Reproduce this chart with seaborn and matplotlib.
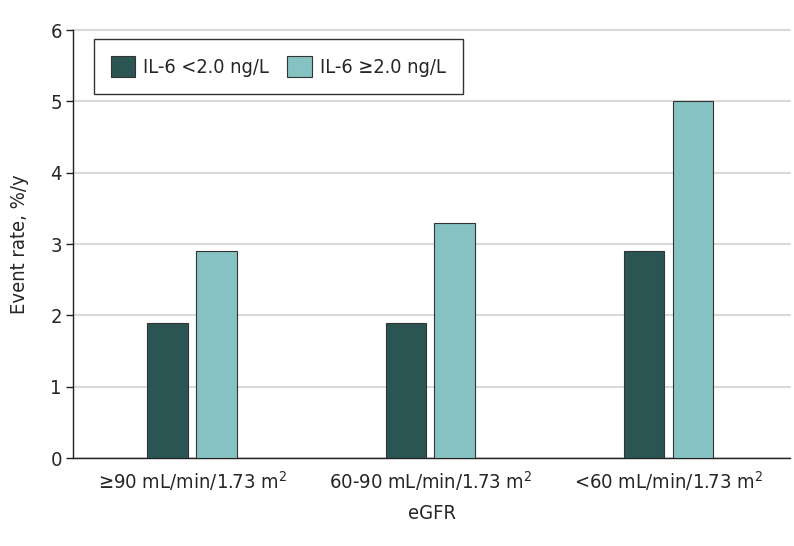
import numpy as np
import pandas as pd
import matplotlib
matplotlib.use("Agg")
import matplotlib.pyplot as plt
import seaborn as sns

# values
groups = ["≥90 mL/min/1.73 m$^2$", "60-90 mL/min/1.73 m$^2$", "<60 mL/min/1.73 m$^2$"]
il6_low = [1.9, 1.9, 2.9]
il6_high = [2.9, 3.3, 5.0]
series = ["IL-6 <2.0 ng/L", "IL-6 ≥2.0 ng/L"]

data = pd.DataFrame({
    "eGFR": groups * 2,
    "rate": il6_low + il6_high,
    "IL6": [series[0]] * 3 + [series[1]] * 3,
})

sns.set_theme(style="white")
plt.rcParams['font.family'] = ['DejaVu Sans']
plt.rcParams['font.stretch'] = 'condensed'
plt.rcParams['mathtext.default'] = 'regular'

fig = plt.figure(figsize=(7.94, 5.46), dpi=100)
ax = fig.add_axes([0.092, 0.161, 0.903, 0.784])

sns.barplot(data=data, x="eGFR", y="rate", hue="IL6", order=groups, hue_order=series,
            palette=["#2b5553", "#86c2c1"], saturation=1, width=0.41, gap=0.17,
            edgecolor="#333333", linewidth=0.8, ax=ax, zorder=3)

ax.set_ylim(0, 6)
ax.set_xlim(-0.5, 2.51)
ax.set_yticks(range(0, 7))
ax.yaxis.grid(True, color="#d9d9d9", linewidth=1.5, zorder=0)
for gl in ax.get_ygridlines():
    gl.set_clip_on(False)
ax.set_axisbelow(True)
for s in ["top", "right"]:
    ax.spines[s].set_visible(False)
for s in ["left", "bottom"]:
    ax.spines[s].set_color("#222222")
    ax.spines[s].set_linewidth(1.0)
ax.tick_params(axis="y", length=5, width=1, color="#222222", labelsize=14.5, pad=3, left=True)
ax.tick_params(axis="x", length=0, labelsize=14.5, pad=8)

ax.set_ylabel("Event rate, %/y", fontsize=14.5, labelpad=15)
ax.set_xlabel("eGFR", fontsize=14.5, labelpad=8)

leg = ax.legend(loc="upper left", bbox_to_anchor=(0.015, 1.003), ncol=2, fontsize=14.3,
                frameon=True, fancybox=False, edgecolor="#333333", framealpha=1,
                handlelength=1.25, handleheight=1.25, columnspacing=0.9,
                borderpad=0.85, handletextpad=0.4, title=None)
leg.get_frame().set_linewidth(1.0)

fig.savefig("out.png", dpi=100)
